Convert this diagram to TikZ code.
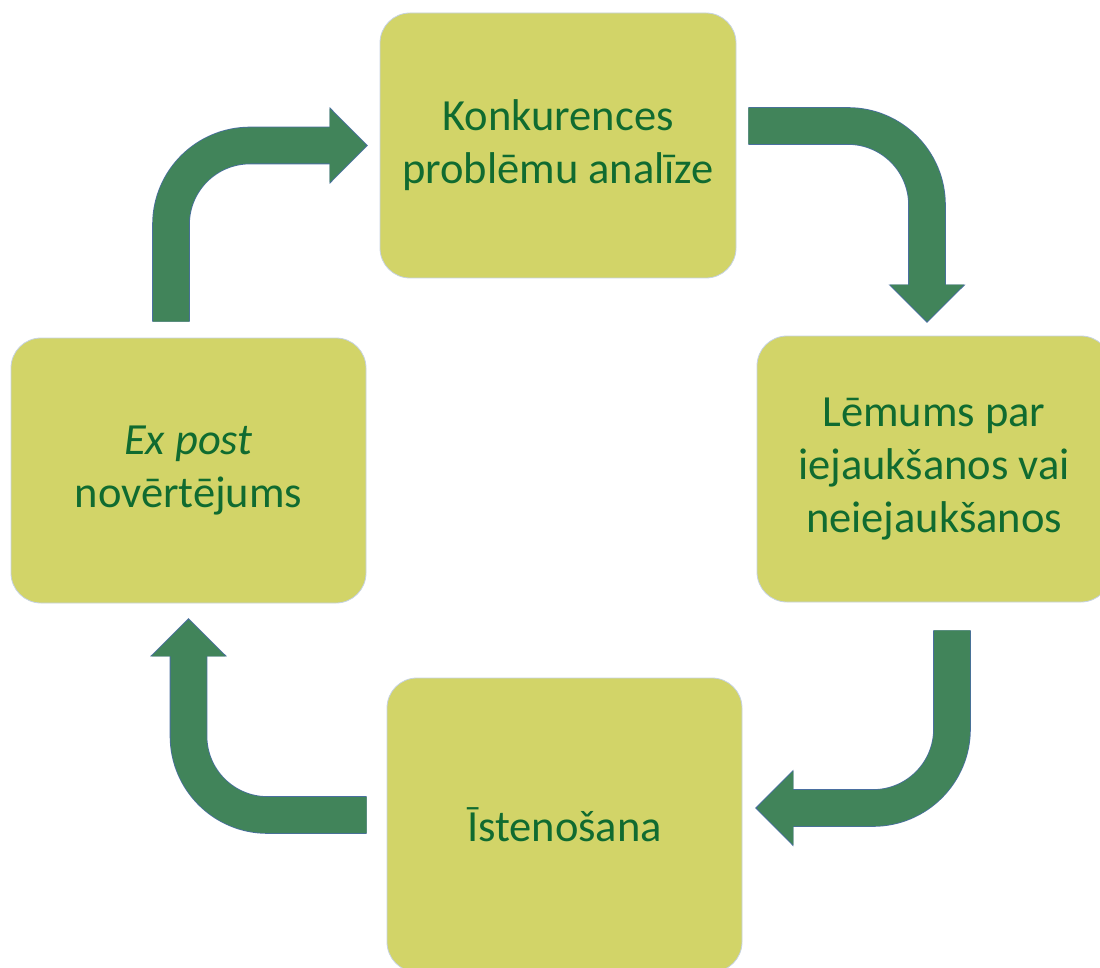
\documentclass[tikz,border=0pt]{standalone}
\usepackage{fontspec}
\setmainfont{Carlito}
\usetikzlibrary{arrows.meta}
\usepackage{xcolor}
\definecolor{boxfill}{HTML}{D2D468}
\definecolor{boxline}{HTML}{C6D2E2}
\definecolor{textgreen}{HTML}{106B30}
\definecolor{arrowgreen}{HTML}{41845A}
\definecolor{arrowline}{HTML}{4A6FA0}

\tikzset{
  stepbox/.style={fill=boxfill,draw=boxline,line width=0.8pt,rounded corners=30pt,
    text=textgreen,align=center,font=\fontsize{44.5}{53}\selectfont,inner sep=0pt},
  bigarrow/.style={arrowgreen,line width=36pt,rounded corners=79pt,
    -{Triangle[width=72pt,length=37pt]},
    preaction={draw=arrowline,line width=37.6pt,
      -{Triangle[width=74.5pt,length=38.3pt]},shorten >=-1.3pt}}
}

\begin{document}
\begin{tikzpicture}[x=1pt,y=-1pt]
    \useasboundingbox (0,0) rectangle (1100,968);

    % Cycle steps
    \node[stepbox,minimum width=356pt,minimum height=265pt] (analize) at (558,145.5)
      {Konkurences\\problēmu analīze};
    \node[stepbox,minimum width=354pt,minimum height=266pt] (lemums) at (934,469)
      {Lēmums par\\iejaukšanos vai\\neiejaukšanos};
    \node[stepbox,minimum width=355pt,minimum height=294pt] (istenosana) at (564.5,825)
      {Īstenošana};
    \node[stepbox,minimum width=355pt,minimum height=265pt] (expost) at (188.5,470.5)
      {\textit{Ex post}\\novērtējums};

    % Bent arrows between steps
    \draw[bigarrow] ([xshift=-17.5pt,yshift=16pt]expost.north) |- ([xshift=-13pt]analize.west);
    \draw[bigarrow] ([xshift=12pt,yshift=19.5pt]analize.east) -| ([xshift=-7pt,yshift=14pt]lemums.north);
    \draw[bigarrow] ([xshift=18pt,yshift=-28pt]lemums.south) |- ([xshift=14pt,yshift=17pt]istenosana.east);
    \draw[bigarrow] ([xshift=-20pt,yshift=10pt]istenosana.west) -| ([yshift=-16pt]expost.south);
\end{tikzpicture}
\end{document}
